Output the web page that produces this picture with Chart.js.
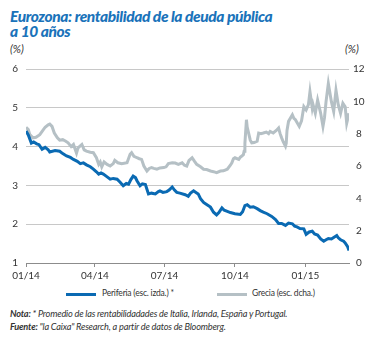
<!DOCTYPE html>
<html>
<head>
<meta charset="utf-8">
<script src="https://cdn.jsdelivr.net/npm/chart.js@4.4.1/dist/chart.umd.min.js"></script>
<style>
  body { margin: 0; background: #fff; font-family: Lato, "Open Sans", sans-serif; color: #333; }
  #wrap { position: relative; width: 384px; height: 338px; overflow: hidden; }
  .title { position: absolute; left: 10px; top: 9px; font-size: 15.5px; line-height: 15px; font-weight: 900; font-style: italic; color: #1a73ba; letter-spacing: -0.4px; }
  .unit { position: absolute; top: 42px; font-size: 11px; font-style: italic; color: #333; }
  #chartBox { position: absolute; left: 0; top: 55px; width: 384px; height: 230px; }
  .leg { position: absolute; top: 288px; font-size: 8.5px; color: #333; letter-spacing: -0.2px; }
  .leg span.line { position: absolute; top: 5px; width: 30px; height: 3px; }
  .note { position: absolute; left: 10px; font-size: 9.2px; font-style: italic; color: #333; letter-spacing: -0.2px; }
</style>
</head>
<body>
<div id="wrap">
  <div class="title">Eurozona: rentabilidad de la deuda pública<br>a 10 años</div>
  <div class="unit" style="left:10px">(%)</div>
  <div class="unit" style="left:345px">(%)</div>
  <div id="chartBox"><canvas id="chart"></canvas></div>
  <div class="leg" style="left:66px"><span class="line" style="background:#0a6ab3"></span><span style="margin-left:36px">Periferia (esc. izda.) *</span></div>
  <div class="leg" style="left:217px"><span class="line" style="background:#b5c0c5"></span><span style="margin-left:35px">Grecia (esc. dcha.)</span></div>
  <div class="note" style="top:308px"><b>Nota:</b> * Promedio de las rentabilidadades de Italia, Irlanda, España y Portugal.</div>
  <div class="note" style="top:321px"><b>Fuente:</b> "la Caixa" Research, a partir de datos de Bloomberg.</div>
</div>
<script>
// x axis: days since 1 Jan 2014
const xTickDays = [0, 90, 181, 273, 365];
const xTickLabels = ['01/14', '04/14', '07/14', '10/14', '01/15'];

// Periferia (left scale, %)
const periferiaDays = [0, 3, 7, 10, 14, 17, 21, 25, 29, 31, 38, 44, 48, 53, 58, 62, 67, 71, 75, 79,
  84, 88, 92, 95, 98, 101, 106, 110, 114, 119, 123, 127, 131, 134, 137, 140, 143, 145, 149, 152,
  156, 160, 164, 169, 173, 175, 179, 184, 187, 191, 194, 197, 201, 208, 212, 215, 219, 222, 225, 228,
  232, 235, 241, 245, 249, 252, 256, 259, 263, 267, 273, 280, 283, 286, 289, 293, 297, 302, 306, 310,
  315, 321, 326, 330, 334, 339, 343, 348, 351, 354, 358, 363, 366, 370, 374, 377, 381, 385, 389, 392,
  395, 399, 402, 406, 408, 411, 415, 417, 420, 422];
const periferiaValues = [4.40, 4.30, 4.09, 4.12, 4.07, 4.05, 3.93, 3.98, 3.92, 3.86, 3.90, 3.88, 3.82, 3.76, 3.72, 3.67, 3.62, 3.56, 3.58, 3.53,
  3.48, 3.42, 3.35, 3.29, 3.32, 3.29, 3.22, 3.16, 3.18, 3.16, 3.08, 2.99, 3.05, 3.03, 3.15, 3.24, 3.20, 3.12, 2.99, 3.04,
  3.02, 2.78, 2.80, 2.78, 2.84, 2.86, 2.82, 2.84, 2.88, 2.96, 2.88, 2.82, 2.80, 2.76, 2.72, 2.80, 2.86, 2.82, 2.78, 2.66,
  2.56, 2.52, 2.44, 2.31, 2.24, 2.30, 2.42, 2.36, 2.33, 2.30, 2.27, 2.25, 2.32, 2.48, 2.50, 2.44, 2.45, 2.40, 2.35, 2.31,
  2.27, 2.20, 2.12, 2.02, 2.02, 1.97, 2.03, 2.01, 1.95, 1.93, 1.89, 1.88, 1.74, 1.80, 1.82, 1.75, 1.72, 1.62, 1.56, 1.60,
  1.63, 1.62, 1.66, 1.71, 1.65, 1.60, 1.56, 1.52, 1.43, 1.32];

// Grecia (right scale, %)
const greciaDays = [0, 3, 5, 9, 13, 18, 22, 25, 29, 31, 34, 37, 41, 44, 48, 52, 55, 59, 62, 66,
  68, 73, 76, 79, 84, 88, 92, 95, 97, 99, 102, 106, 110, 114, 116, 120, 125, 132, 136, 138,
  141, 145, 148, 151, 154, 158, 161, 164, 167, 171, 175, 180, 183, 186, 191, 195, 199, 204, 207, 210,
  213, 217, 220, 223, 228, 232, 236, 241, 245, 249, 254, 258, 263, 267, 269, 271, 273, 278, 280, 282,
  284, 285, 286, 288, 289, 291, 293, 295, 298, 302, 304, 307, 310, 314, 317, 319, 323, 327, 330, 332,
  334, 336, 339, 340, 341, 343, 348, 350, 352, 357, 360, 363, 366, 369, 371, 374, 375, 378, 381, 385,
  388, 390, 392, 395, 399, 402, 405, 408, 411, 414, 417, 419, 422];
const greciaValues = [8.40, 8.25, 7.94, 7.74, 7.78, 7.94, 8.20, 8.40, 8.55, 8.59, 8.45, 8.04, 7.74, 7.60, 7.63, 7.53, 7.43, 7.20, 7.33, 6.80,
  7.12, 7.33, 7.00, 6.92, 6.85, 6.82, 6.51, 6.10, 6.25, 5.95, 6.25, 6.10, 6.00, 6.15, 6.35, 6.20, 6.14, 6.20, 6.72, 6.82,
  6.60, 6.51, 6.45, 6.41, 6.00, 5.69, 5.85, 5.90, 5.85, 5.80, 5.88, 5.90, 5.95, 6.15, 6.20, 6.18, 6.10, 6.20, 6.05, 6.00,
  6.35, 6.51, 6.30, 6.10, 5.95, 5.80, 5.78, 5.69, 5.65, 5.59, 5.69, 5.70, 5.80, 6.05, 6.20, 6.45, 6.51, 6.41, 6.55, 6.61,
  6.70, 6.92, 7.40, 8.86, 8.40, 8.00, 7.60, 7.43, 7.45, 7.53, 8.04, 8.00, 8.04, 8.10, 8.00, 8.14, 8.04, 8.20, 8.35, 8.00,
  7.74, 7.50, 7.22, 7.40, 8.20, 8.76, 9.17, 8.95, 8.86, 8.45, 8.80, 9.67, 9.47, 9.80, 10.59, 9.57, 9.80, 9.26, 10.08, 9.26,
  8.45, 9.00, 9.98, 11.10, 9.98, 9.37, 10.69, 9.78, 9.26, 9.88, 9.67, 8.65, 9.26];

const toPoints = (days, vals) => days.map((d, i) => ({ x: d, y: vals[i] }));

const tickFont = { family: 'Lato, "Open Sans", sans-serif', size: 10 };

new Chart(document.getElementById('chart'), {
  type: 'line',
  data: {
    datasets: [{
      label: 'Periferia (esc. izda.) *',
      data: toPoints(periferiaDays, periferiaValues),
      borderColor: '#0a6ab3',
      borderWidth: 3,
      pointRadius: 0,
      yAxisID: 'y'
    },
    {
      label: 'Grecia (esc. dcha.)',
      data: toPoints(greciaDays, greciaValues),
      borderColor: '#b5c0c5',
      borderWidth: 3,
      pointRadius: 0,
      yAxisID: 'y2'
    }]
  },
  options: {
    responsive: true,
    maintainAspectRatio: false,
    animation: false,
    layout: { padding: { top: 12, left: 0, right: 0, bottom: 0 } },
    plugins: { legend: { display: false }, tooltip: { enabled: false } },
    scales: {
      x: {
        type: 'linear',
        min: 0,
        max: 422,
        afterBuildTicks: axis => { axis.ticks = xTickDays.map(v => ({ value: v })); },
        afterFit: axis => { axis.height = 22; },
        grid: { drawOnChartArea: false, drawTicks: true, tickLength: 4, color: '#8c8c8c' },
        border: { color: '#8c8c8c', width: 1 },
        ticks: {
          color: '#333', font: tickFont, padding: 3, maxRotation: 0,
          callback: v => xTickLabels[xTickDays.indexOf(v)]
        }
      },
      y: {
        position: 'left',
        min: 1,
        max: 6,
        afterFit: axis => { axis.width = 26; },
        grid: { color: '#c8c8c8', drawTicks: false },
        border: { display: false },
        ticks: { stepSize: 1, color: '#333', font: tickFont, padding: 8 }
      },
      y2: {
        position: 'right',
        min: 0,
        max: 12,
        afterFit: axis => { axis.width = 35; },
        grid: { drawOnChartArea: false, drawTicks: false },
        border: { display: false },
        ticks: { stepSize: 2, color: '#333', font: tickFont, padding: 4, crossAlign: 'center' }
      }
    }
  }
});
</script>
</body>
</html>
